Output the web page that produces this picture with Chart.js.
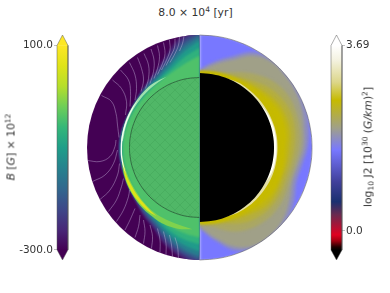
<!DOCTYPE html>
<html>
<head>
<meta charset="utf-8">
<title>B and J2 field</title>
<script src="https://cdn.jsdelivr.net/npm/chart.js@4"></script>
<style>
    html, body { margin: 0; padding: 0; background: #fff; }
    #page { position: relative; width: 390px; height: 293px; overflow: hidden; font-family: "DejaVu Sans", sans-serif; color: #333; }
    canvas { position: absolute; }
    #fieldChart { left: 80px; top: 25px; }
    #bBar { left: 0; top: 0; }
    #jBar { left: 320px; top: 0; }
    .lbl { position: absolute; white-space: nowrap; font-size: 10.8px; transform: translate(-50%, -50%); }
    .rot { transform: translate(-50%, -50%) rotate(-90deg); }
    .lbl sup { font-size: 7.5px; line-height: 0; vertical-align: 4px; }
    .lbl sub { font-size: 7.5px; line-height: 0; vertical-align: -2px; }
</style>
</head>
<body>
<div id="page">
    <canvas id="fieldChart" width="240" height="245"></canvas>
    <canvas id="bBar" width="70" height="293"></canvas>
    <canvas id="jBar" width="70" height="293"></canvas>
    <div class="lbl" style="left:195.5px;top:12px">8.0 × 10<sup>4</sup> [yr]</div>
    <div class="lbl rot" style="left:11px;top:147px"><i>B</i> [<i>G</i>] × 10<sup>12</sup></div>
    <div class="lbl rot" style="left:368px;top:147px">log<sub>10</sub> J2 [10<sup>30</sup> (<i>G/km</i>)<sup>2</sup>]</div>
</div>
<script>
// latitude of every radial reading, north pole to south pole
const lats = [90, 80, 70, 60, 50, 40, 30, 20, 10, 0, -10, -20, -30, -40, -50, -60, -70, -80, -90];
const diskRadius = 112.5;
const starRadius = 70;
const coreRadius = 74.5;

// colour bars
const bStops = [-300, -260, -220, -180, -140, -100, -60, -20, 20, 60, 100];
const bColors = ['#440154', '#482878', '#3e4989', '#31688e', '#26828e', '#1f9e89', '#35b779', '#6ece58', '#b5de2b', '#dfe318', '#fde725'];
const bTicks = [-300, 100];
const bTickLabels = ['-300.0', '100.0'];
const bBarRange = [-300, 100];
const bTips = [-320, 120.5];

const jStops = [-0.38, -0.32, -0.2, -0.08, 0.32, 0.58, 0.97, 1.61, 2.05, 2.6, 2.96, 3.4, 3.69];
const jColors = ['#000000', '#200000', '#a00010', '#e00020', '#6a2a50', '#1a3070', '#40409a', '#7878ff', '#a0a088', '#c6ba00', '#dcd68a', '#f4f2e0', '#ffffff'];
const jTicks = [0, 3.69];
const jTickLabels = ['0.0', '3.69'];
const jBarRange = [-0.38, 3.69];
const jTips = [-0.58, 3.9];

// left half: B level value, and the radius where it is reached at each latitude
const bLevels = [-262, -225, -185, -145, -105, -70, -42];
const bRadii = [
    [120, 112, 98, 88, 83, 80, 78.5, 79, 80, 80.5, 80.5, 80.5, 81.5, 83.5, 88, 93, 103, 111, 120],
    [117, 108, 95, 86.5, 82, 79.5, 78, 78.5, 79.5, 80, 80, 80, 81, 83, 86.5, 91, 100, 108, 116],
    [114, 104, 92, 84.5, 81, 79, 77.7, 78, 79, 79.5, 79.5, 79.5, 80.5, 82, 85, 89, 97, 105, 112],
    [111, 100, 89, 82.5, 79.5, 78, 77.5, 77.7, 78.5, 79, 79, 79, 80, 81, 83.5, 87, 94, 102, 109],
    [107, 96, 86, 80.5, 78, 77, 77, 77.3, 78, 78.5, 78.5, 78.5, 79, 80, 82, 85, 91, 98, 104],
    [100, 91, 83, 79, 77, 76, 76, 76.5, 77, 77.5, 77.5, 77.5, 78, 79, 80.5, 83, 88, 93, 97],
    [92, 85, 80, 77, 75.5, 75, 75, 75.5, 76, 76.5, 76.5, 76.5, 77, 78, 79, 81, 84, 87, 90]
];

// current sheet on the left: latitudes, inner and outer radius
const mintLat = [65, 55, 45, 35, 25, 15, 5];
const mintIn = [78, 77, 76.5, 76.3, 76.3, 76.5, 77];
const mintOut = [78, 79, 79, 78.5, 78.5, 78.5, 78.5];
const limeLat = [-5, -15, -25, -35, -45, -55, -65, -75, -85];
const limeIn = [78, 77, 76.8, 77, 78, 79, 79.5, 80, 82];
const limeOut = [78, 79.6, 81, 82, 83, 83.5, 84.5, 84, 82];
const yellowLat = [-12, -20, -30, -40, -50, -58];
const yellowIn = [78, 78, 78, 78.5, 79.5, 81];
const yellowOut = [78, 79.6, 80.8, 81.4, 81.8, 81];
const sheetLat = [38, 30, 20, 10, 0, -10, -20];
const sheetIn = [78, 77.2, 77, 77.2, 77.5, 77.8, 78.3];
const sheetOut = [78, 78.2, 78.3, 78.5, 78.8, 79, 78.3];

// right half: J2 level value and radius at each latitude
const jLevels = [1.85, 2.05, 2.2, 2.35, 2.5, 2.6, 2.6];
const jRadii = [
    [78, 87, 97, 110, 114, 114, 114, 114, 111, 108, 104, 103, 109, 114, 114, 114, 110, 95, 81],
    [76, 84, 93, 106, 112, 112, 111, 109, 106, 104, 100, 99, 104, 110, 113, 113, 106, 92, 79],
    [75.5, 77, 80, 87, 94, 100, 103, 103, 102, 100, 97, 96, 98, 99, 98, 95, 89, 81, 77],
    [75.5, 76.5, 78, 81, 86, 92, 96, 98, 97, 95, 93, 92, 93, 93, 91, 87, 81, 77.5, 76],
    [75.5, 76, 77, 79, 82, 86, 90, 92, 92, 90, 89, 88, 89, 89, 85, 81, 78, 76.5, 76],
    [75.5, 75.5, 76, 77.5, 80, 82.5, 86, 88, 88, 86, 86, 86, 86, 84, 81, 78.5, 77, 76, 75.5],
    [76, 76.5, 77, 77.5, 78, 78, 78, 78, 78, 78, 78, 78, 78, 78, 78, 77.5, 77, 76.5, 76]
];
const paleLat = [70, 60, 50, 40, 30, 20, 10, 0, -10, -20, -30, -40, -50, -60, -70];
const paleOut = [74, 75.5, 76, 76.5, 77, 77.5, 78, 78, 78, 78, 77.5, 77, 76.5, 75.5, 74];
const glowLat = [40, 30, 20, 10, 0, -10, -20, -30];
const glowOut = [74, 75.5, 76.5, 77, 77, 77, 76.5, 74];

// field lines in the purple region, x and y pairs in the same units as the radii
const fieldLines = [
    [[-98, 52], [-88, 46], [-83.5, 34], [-82, 22.5], [-80.5, 10]],
    [[-87, 67.5], [-78, 59], [-73, 46], [-74, 32.5]],
    [[-79, 77.5], [-71, 67.5], [-69, 56], [-69.5, 41]],
    [[-70, 85], [-64.5, 72.5], [-63, 59], [-64.5, 47.5]],
    [[-62, 90], [-58, 79], [-56, 67.5], [-58.5, 56]],
    [[-55.5, 94], [-51, 82.5], [-51, 69], [-54, 59]],
    [[-48.5, 98.5], [-45.5, 87.5], [-46, 76], [-49.5, 64]],
    [[-42, 102], [-40, 91], [-42, 79], [-45.5, 69]],
    [[-36, 105], [-34.5, 94], [-37, 84], [-42, 73]],
    [[-30, 107.5], [-29.5, 97.5], [-33, 87.5], [-38, 77.5]],
    [[-24.5, 109], [-25, 100], [-29, 91], [-33.5, 82]],
    [[-20, 110.5], [-21, 102.5], [-24.5, 94], [-29.5, 85]],
    [[-15.5, 111.5], [-17, 104], [-20, 96.5]],
    [[-112, -13], [-99.5, -14], [-89.5, -9], [-84.5, 1], [-83.5, 7.5]],
    [[-107, -34], [-94.5, -27.5], [-86, -16], [-82, -2.5]],
    [[-99.5, -52], [-89.5, -42.5], [-82, -27.5], [-80, -16]],
    [[-91, -64], [-83, -52.5], [-78, -39], [-76, -31]],
    [[-83, -74], [-76, -62.5], [-71, -49], [-70, -42.5]],
    [[-74.5, -82.5], [-69.5, -72.5], [-64.5, -61]],
    [[-64.5, -90], [-61, -79], [-59.5, -67.5]],
    [[-56, -96], [-54.5, -84], [-56, -72.5]],
    [[-48, -101], [-47, -89], [-49.5, -77.5]],
    [[-39.5, -105], [-39.5, -92.5], [-42, -81]],
    [[-33.5, -107.5], [-33.5, -96], [-36, -84]],
    [[-27, -109], [-28, -97.5], [-30, -87.5]],
    [[-21, -111], [-22, -99], [-24.5, -90]]
];

Chart.defaults.font.family = '"DejaVu Sans", sans-serif';

function hexRgb(h) {
    return [parseInt(h.substr(1, 2), 16), parseInt(h.substr(3, 2), 16), parseInt(h.substr(5, 2), 16)];
}

// colour of a value on a colour bar
function mapColor(v, stops, colors) {
    if (v <= stops[0]) return colors[0];
    for (var i = 1; i < stops.length; i++) {
        if (v <= stops[i]) {
            var t = (v - stops[i - 1]) / (stops[i] - stops[i - 1]);
            var a = hexRgb(colors[i - 1]), b = hexRgb(colors[i]);
            return 'rgb(' + a.map(function (c, k) { return Math.round(c + (b[k] - c) * t); }).join(',') + ')';
        }
    }
    return colors[colors.length - 1];
}

function polar(side, latList, radii) {
    return latList.map(function (lat, i) {
        var a = lat * Math.PI / 180;
        return { x: side * radii[i] * Math.cos(a), y: radii[i] * Math.sin(a) };
    });
}

function constant(list, r) {
    return list.map(function () { return r; });
}

// closed shape, filled through the Filler plugin
function shape(points, color, clipKey) {
    return { data: points, clipKey: clipKey, backgroundColor: color, fill: 'shape', showLine: true, borderWidth: 0, pointRadius: 0, tension: 0.4 };
}

function band(side, latList, inner, outer, color, clipKey) {
    return shape(polar(side, latList, outer).concat(polar(side, latList, inner).reverse()), color, clipKey);
}

function hatchPattern() {
    var c = document.createElement('canvas');
    c.width = 10; c.height = 10;
    var g = c.getContext('2d');
    g.fillStyle = '#50b767';
    g.fillRect(0, 0, 10, 10);
    g.strokeStyle = 'rgba(62,160,88,0.55)';
    g.lineWidth = 0.7;
    g.beginPath();
    g.moveTo(0, 0); g.lineTo(10, 10);
    g.moveTo(10, 0); g.lineTo(0, 10);
    g.stroke();
    return g.createPattern(c, 'repeat');
}

// paint order, first entry goes underneath
var layers = [];
layers.push(shape(polar(1, lats, constant(lats, 114)), mapColor(1.61, jStops, jColors), 'R'));
jLevels.forEach(function (v, i) {
    layers.push(shape(polar(1, lats, jRadii[i]), mapColor(v, jStops, jColors), 'R'));
});
layers.push(band(1, paleLat, constant(paleLat, 74), paleOut, mapColor(3.1, jStops, jColors), 'Rs'));
layers.push(band(1, glowLat, constant(glowLat, 74), glowOut, '#fffff4', 'Rs'));
layers.push(shape(polar(1, lats, constant(lats, coreRadius)), '#000000', 'Rc'));

layers.push(shape(polar(-1, lats, constant(lats, 114)), mapColor(-300, bStops, bColors), 'L'));
bLevels.forEach(function (v, i) {
    layers.push(shape(polar(-1, lats, bRadii[i]), mapColor(v, bStops, bColors), 'L'));
});
layers.push(band(-1, mintLat, mintIn, mintOut, '#9fe2ad', 'Ls'));
layers.push(band(-1, limeLat, limeIn, limeOut, mapColor(-10, bStops, bColors), 'Ls'));
layers.push(band(-1, yellowLat, yellowIn, yellowOut, mapColor(60, bStops, bColors), 'Ls'));
layers.push(band(-1, sheetLat, sheetIn, sheetOut, '#f4fff4', 'Ls'));

var star = shape(polar(-1, lats, constant(lats, starRadius)), hatchPattern(), 'Lc');
star.borderWidth = 0.8;
star.borderColor = '#2c5a3a';
layers.push(star);

fieldLines.forEach(function (line) {
    layers.push({
        data: line.map(function (p) { return { x: p[0], y: p[1] }; }),
        showLine: true, fill: false, pointRadius: 0, tension: 0.4,
        borderWidth: 0.7, borderColor: 'rgba(205,190,225,0.6)'
    });
});

layers.push({
    data: polar(1, lats, constant(lats, diskRadius)),
    showLine: true, fill: false, pointRadius: 0, tension: 0.4,
    borderWidth: 0.8, borderColor: 'rgba(90,90,90,0.7)'
});

// Chart.js paints the last dataset first
var fieldSets = layers.slice().reverse();

// blur per clip key: L/R wide bands, Ls/Rs thin sheets, Lc/Rc crisp
var blurByKey = { L: 'blur(1px)', R: 'blur(1.6px)', Ls: 'blur(0.5px)', Rs: 'blur(0.5px)' };

// half disk clip and a small blur while the field layers are painted
var fieldClip = {
    id: 'fieldClip',
    open: null,
    setKey: function (chart, key) {
        if (key === this.open) return;
        var ctx = chart.ctx;
        if (this.open) ctx.restore();
        this.open = key || null;
        if (!key) return;
        var sx = chart.scales.x, sy = chart.scales.y;
        var cx = sx.getPixelForValue(0), cy = sy.getPixelForValue(0);
        var r = sx.getPixelForValue(diskRadius) - cx;
        ctx.save();
        ctx.beginPath();
        ctx.arc(cx, cy, r, 0, Math.PI * 2);
        ctx.clip();
        ctx.beginPath();
        if (key[0] === 'L') ctx.rect(cx - r - 2, cy - r - 2, r + 2, 2 * r + 4);
        else ctx.rect(cx, cy - r - 2, r + 2, 2 * r + 4);
        ctx.clip();
        if (blurByKey[key]) ctx.filter = blurByKey[key];
    },
    beforeDatasetsDraw: function (chart) {
        this.setKey(chart, chart.data.datasets[chart.data.datasets.length - 1].clipKey);
    },
    afterDatasetDraw: function (chart, args) {
        var next = chart.data.datasets[args.index - 1];
        this.setKey(chart, next ? next.clipKey : null);
    }
};

new Chart(document.getElementById('fieldChart'), {
    type: 'scatter',
    data: { datasets: fieldSets },
    options: {
        responsive: false,
        animation: false,
        events: [],
        layout: { padding: 0 },
        plugins: { legend: { display: false }, tooltip: { enabled: false } },
        scales: {
            x: { type: 'linear', display: false, min: -119.5, max: 120.5 },
            y: { type: 'linear', display: false, min: -122.5, max: 122.5 }
        }
    },
    plugins: [fieldClip]
});

function colorBar(id, stops, colors, range, tips, ticks, tickLabels, side) {
    var gradient = function (context) {
        var chart = context.chart;
        if (!chart.chartArea) return colors[0];
        var sy = chart.scales.y;
        var g = chart.ctx.createLinearGradient(0, sy.getPixelForValue(range[0]), 0, sy.getPixelForValue(range[1]));
        stops.forEach(function (v, i) {
            g.addColorStop((v - range[0]) / (range[1] - range[0]), colors[i]);
        });
        return g;
    };
    var tip = function (base, end, color) {
        return {
            type: 'scatter', showLine: true, fill: 'shape', pointRadius: 0, borderWidth: 0,
            backgroundColor: color, data: [{ x: 0, y: base }, { x: 0.5, y: end }, { x: 1, y: base }]
        };
    };
    new Chart(document.getElementById(id), {
        type: 'bar',
        data: {
            datasets: [
                {
                    type: 'scatter', showLine: true, fill: false, pointRadius: 0, clip: false,
                    borderWidth: 0.7, borderColor: 'rgba(90,90,90,0.7)',
                    data: [
                        { x: 0, y: range[0] }, { x: 0, y: range[1] }, { x: 0.5, y: tips[1] }, { x: 1, y: range[1] },
                        { x: 1, y: range[0] }, { x: 0.5, y: tips[0] }, { x: 0, y: range[0] }
                    ]
                },
                tip(range[1], tips[1], colors[colors.length - 1]),
                tip(range[0], tips[0], colors[0]),
                { data: [{ x: 0.5, y: [range[0], range[1]] }], backgroundColor: gradient, barThickness: 11, borderWidth: 0 }
            ]
        },
        options: {
            responsive: false,
            animation: false,
            events: [],
            layout: { padding: side === 'left' ? { top: 35, bottom: 33, right: 2 } : { top: 35, bottom: 33, left: 11 } },
            plugins: { legend: { display: false }, tooltip: { enabled: false } },
            scales: {
                x: { type: 'linear', display: false, offset: false, min: 0, max: 1 },
                y: {
                    type: 'linear',
                    position: side,
                    min: tips[0],
                    max: tips[1],
                    border: { display: false },
                    grid: { drawOnChartArea: false, drawTicks: true, tickLength: 3, color: '#a8a8a8', lineWidth: 0.7 },
                    afterBuildTicks: function (scale) {
                        scale.ticks = ticks.map(function (v) { return { value: v }; });
                    },
                    afterFit: function (scale) {
                        scale.width = side === 'left' ? 57 : 48;
                    },
                    ticks: {
                        autoSkip: false,
                        maxRotation: 0,
                        padding: 1,
                        color: '#333',
                        font: { size: 10.5 },
                        callback: function (value) { return tickLabels[ticks.indexOf(value)]; }
                    }
                }
            }
        }
    });
}

colorBar('bBar', bStops, bColors, bBarRange, bTips, bTicks, bTickLabels, 'left');
colorBar('jBar', jStops, jColors, jBarRange, jTips, jTicks, jTickLabels, 'right');
</script>
</body>
</html>
